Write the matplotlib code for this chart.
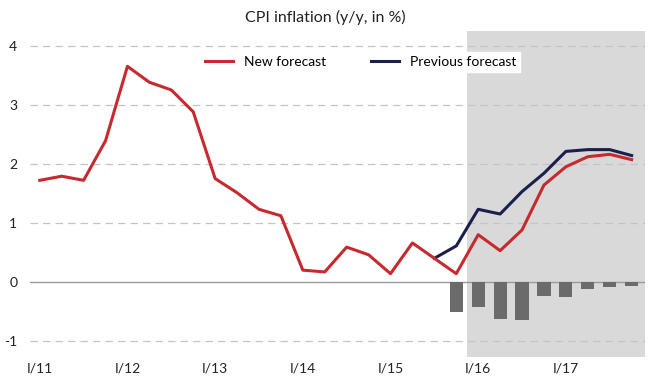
import matplotlib
matplotlib.use("Agg")
import matplotlib.pyplot as plt
import numpy as np

plt.rcParams['font.family'] = ['Lato', 'DejaVu Sans']

# Quarters I/11 .. IV/17 (index 0..27)
tick_labels = ["I/11", "I/12", "I/13", "I/14", "I/15", "I/16", "I/17"]
tick_idx = [0, 4, 8, 12, 16, 20, 24]

new_forecast = [1.72, 1.79, 1.72, 2.39, 3.65, 3.38, 3.25, 2.88, 1.75, 1.51,
                1.23, 1.12, 0.20, 0.17, 0.59, 0.46, 0.14, 0.66, 0.40, 0.14,
                0.80, 0.53, 0.88, 1.64, 1.95, 2.12, 2.16, 2.07]
prev_start = 18
previous_forecast = [0.40, 0.61, 1.23, 1.15, 1.53, 1.84, 2.21, 2.24, 2.24, 2.14]
bar_start = 19
difference = [-0.50, -0.42, -0.62, -0.65, -0.23, -0.25, -0.12, -0.08, -0.06]

fig = plt.figure(figsize=(6.5, 3.81), dpi=100)
ax = fig.add_axes([0.046, 0.063, 0.946, 0.856])

x_new = np.arange(len(new_forecast))
x_prev = np.arange(prev_start, prev_start + len(previous_forecast))
x_bar = np.arange(bar_start, bar_start + len(difference))

ax.axvspan(19.5, 27.6, color="#d9d9d9", zorder=0, lw=0)

for yv in [-1, 1, 2, 3, 4]:
    ax.axhline(yv, color="#c4c4c4", lw=0.9, ls=(0, (6, 4)), zorder=1)
ax.axhline(0, color="#9a9a9a", lw=1.0, zorder=1)

ax.bar(x_bar, difference, width=0.6, color="#6b6b6b", zorder=2)
ax.plot(x_prev, previous_forecast, color="#1c1f4d", lw=2.2, zorder=3,
        label="Previous forecast")
ax.plot(x_new, new_forecast, color="#c62a2f", lw=2.2, zorder=4,
        label="New forecast")

ax.set_xlim(-0.45, 27.6)
ax.set_ylim(-1.27, 4.25)
ax.set_xticks(tick_idx)
ax.set_xticklabels(tick_labels, fontsize=10, color="#222222")
ax.set_yticks([-1, 0, 1, 2, 3, 4])
ax.set_yticklabels(["-1", "0", "1", "2", "3", "4"], fontsize=10, color="#222222")
ax.tick_params(axis='x', length=0, pad=4)
ax.tick_params(axis='y', length=0, pad=9)
for s in ax.spines.values():
    s.set_visible(False)

h, l = ax.get_legend_handles_labels()
leg = ax.legend([h[1], h[0]], [l[1], l[0]], ncol=2, loc="center",
                bbox_to_anchor=(0.538, 0.905), frameon=True, fancybox=False,
                edgecolor="white", facecolor="white", framealpha=1,
                fontsize=10, handlelength=2.0, columnspacing=3.2,
                borderpad=0.3)
leg.set_zorder(5)

fig.suptitle("CPI inflation (y/y, in %)", fontsize=11.5, y=0.975, color="#222222")

fig.savefig("out.png", dpi=100)
